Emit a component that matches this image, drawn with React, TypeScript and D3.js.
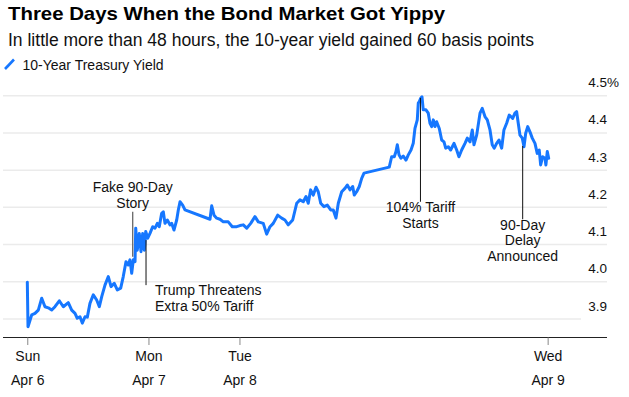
import React from "react";
import * as d3 from "d3";

// Hours since Sun Apr 6 00:00 (ET)
const hours = [21.14,21.23,21.71,22.13,22.56,23.00,23.42,23.85,24.29,24.71,25.27,25.79,26.43,26.87,27.30,27.59,27.94,28.24,28.59,28.89,29.23,29.66,30.10,30.44,30.75,31.17,31.60,31.95,32.37,32.76,33.20,33.53,33.88,34.18,34.40,34.62,34.83,35.05,35.14,35.34,35.60,35.82,36.04,36.25,36.43,36.69,36.98,37.33,37.63,37.93,38.18,38.49,38.70,38.92,39.22,39.56,39.78,40.08,40.43,40.64,40.86,41.20,41.50,44.73,44.95,45.25,45.60,46.02,46.45,47.09,47.61,48.18,48.60,49.03,49.47,49.99,50.54,50.97,51.61,52.05,52.48,52.90,53.47,53.99,54.41,54.84,55.41,55.93,56.35,56.78,57.13,57.42,57.73,58.07,58.42,58.71,59.03,59.45,59.88,60.32,60.65,61.00,61.30,61.74,62.16,62.46,62.81,63.16,63.36,63.67,64.01,64.32,64.62,67.88,68.19,68.53,68.75,68.92,69.14,69.39,69.69,70.04,70.34,70.69,70.98,71.20,71.50,71.63,71.76,71.94,72.11,72.27,72.62,72.92,73.14,73.36,73.57,73.79,74.00,74.34,74.65,74.95,75.17,75.50,75.81,76.24,76.59,76.88,77.23,77.66,77.96,78.31,78.60,78.82,79.17,79.60,79.89,80.24,80.54,80.89,81.18,81.44,81.75,82.05,82.40,82.69,83.04,83.38,83.82,84.11,84.33,84.54,84.76,85.06,85.28,85.50,85.76,86.05,86.35,86.70,86.99,87.25,87.43,87.69,87.99,88.11,88.29,88.47];

const yields = [3.999,3.879,3.911,3.915,3.924,3.956,3.933,3.930,3.924,3.933,3.949,3.933,3.944,3.924,3.915,3.902,3.906,3.889,3.906,3.905,3.942,3.965,3.951,3.933,3.960,3.991,4.014,3.987,3.996,3.978,3.983,4.014,4.054,4.045,4.059,4.023,4.059,4.054,4.144,4.085,4.130,4.081,4.130,4.085,4.135,4.117,4.130,4.148,4.144,4.157,4.148,4.184,4.188,4.157,4.166,4.153,4.157,4.139,4.166,4.193,4.215,4.206,4.193,4.168,4.204,4.179,4.171,4.168,4.161,4.161,4.148,4.148,4.151,4.153,4.144,4.157,4.175,4.161,4.157,4.128,4.148,4.157,4.179,4.171,4.166,4.153,4.166,4.211,4.220,4.215,4.229,4.211,4.247,4.233,4.254,4.242,4.211,4.202,4.206,4.193,4.193,4.171,4.211,4.242,4.251,4.260,4.247,4.256,4.233,4.242,4.256,4.278,4.292,4.308,4.336,4.336,4.350,4.368,4.341,4.332,4.338,4.327,4.341,4.354,4.372,4.412,4.435,4.480,4.484,4.493,4.497,4.462,4.462,4.453,4.426,4.417,4.435,4.417,4.430,4.412,4.381,4.376,4.359,4.363,4.354,4.372,4.354,4.336,4.354,4.372,4.386,4.376,4.408,4.368,4.394,4.453,4.466,4.444,4.435,4.408,4.368,4.359,4.372,4.381,4.359,4.408,4.426,4.448,4.439,4.453,4.457,4.426,4.394,4.386,4.363,4.399,4.417,4.403,4.386,4.372,4.345,4.354,4.314,4.336,4.332,4.314,4.350,4.332];

const yTicks = [3.9, 4.0, 4.1, 4.2, 4.3, 4.4, 4.5];
const yTickLabels = ["3.9", "4.0", "4.1", "4.2", "4.3", "4.4", "4.5"];

const xTickHours = [21.2, 36.85, 48.6, 88.4];
const xTickDays = ["Sun", "Mon", "Tue", "Wed"];
const xTickDates = ["Apr 6", "Apr 7", "Apr 8", "Apr 9"];

const annHours = [34.75, 36.47, 71.91, 85.11];
const annTop = [4.188, 4.112, 4.494, 4.365];
const annBottom = [4.067, 3.991, 4.215, 4.168];
const annLabels = [
  ["Fake 90-Day", "Story"],
  ["Trump Threatens", "Extra 50% Tariff"],
  ["104% Tariff", "Starts"],
  ["90-Day", "Delay", "Announced"],
];
const annMode = ["above", "right", "below", "below"];

const TITLE = "Three Days When the Bond Market Got Yippy";
const SUBTITLE = "In little more than 48 hours, the 10-year yield gained 60 basis points";
const LEGEND = "10-Year Treasury Yield";

const FONT = "'Liberation Sans', Arial, Helvetica, sans-serif";
const BLUE = "#1677ff";

export default function App() {
  const W = 629, H = 397;
  const x = d3.scaleLinear().domain([18, 96]).range([3, 607]);
  const y = d3.scaleLinear().domain([3.9, 4.5]).range([319, 95.7]);
  const n = Math.min(hours.length, yields.length);
  const pts: [number, number][] = [];
  for (let i = 0; i < n; i++) pts.push([hours[i], yields[i]]);
  const line = d3
    .line<[number, number]>()
    .x((d) => x(d[0]))
    .y((d) => y(d[1]))
    .curve(d3.curveLinear);
  const axisY = 337.5;

  return (
    <svg
      width={W}
      height={H}
      viewBox={`0 0 ${W} ${H}`}
      style={{ position: "absolute", left: 0, top: 0, background: "#fff" }}
      fontFamily={FONT}
    >
      <rect width={W} height={H} fill="#fff" />
      <text x={8} y={20} fontSize={18.5} fontWeight="bold" fill="#000" textLength={437} lengthAdjust="spacingAndGlyphs">
        {TITLE}
      </text>
      <text x={8} y={45.5} fontSize={17.5} fill="#111" textLength={526} lengthAdjust="spacingAndGlyphs">
        {SUBTITLE}
      </text>
      <line x1={5} y1={69} x2={14} y2={59.5} stroke={BLUE} strokeWidth={2.6} />
      <text x={22.5} y={69.5} fontSize={14} fill="#111">
        {LEGEND}
      </text>

      {yTicks.map((v, i) => (
        <g key={"g" + i}>
          <line
            x1={3}
            x2={v === 3.9 ? 581 : 607}
            y1={y(v)}
            y2={y(v)}
            stroke="#ebebeb"
            strokeWidth={1.5}
          />
          <text x={607} y={y(v) - 8.5} fontSize={13.5} fill="#111" textAnchor="end">
            {yTickLabels[i]}
          </text>
          {i === yTicks.length - 1 && (
            <text x={607} y={y(v) - 8.5} fontSize={13.5} fill="#111">
              %
            </text>
          )}
        </g>
      ))}

      <line x1={3} x2={607} y1={axisY} y2={axisY} stroke="#222" strokeWidth={1} />
      {xTickHours.map((h, i) => (
        <g key={"x" + i}>
          <line x1={x(h)} x2={x(h)} y1={axisY} y2={axisY + 7.5} stroke="#888" strokeWidth={1} />
          <text x={x(h)} y={361} fontSize={14} fill="#111" textAnchor="middle">
            {xTickDays[i]}
          </text>
          <text x={x(h)} y={385} fontSize={14} fill="#111" textAnchor="middle">
            {xTickDates[i]}
          </text>
        </g>
      ))}

      <path d={line(pts) || ""} fill="none" stroke={BLUE} strokeWidth={3} strokeLinejoin="round" strokeLinecap="round" />

      {annHours.map((h, i) => {
        const ax = x(h);
        const yt = y(annTop[i]);
        const yb = y(annBottom[i]);
        const mode = annMode[i];
        const lines = annLabels[i];
        return (
          <g key={"a" + i}>
            <line
              x1={ax}
              x2={ax}
              y1={yt}
              y2={yb}
              stroke={i === 0 ? "#666" : "#111"}
              strokeWidth={i === 0 ? 1.3 : 1}
            />
            {lines.map((t, j) => {
              let tx = ax, ty = 0, anchor = "middle";
              if (mode === "above") {
                ty = yt - 4 - (lines.length - 1 - j) * 16;
              } else if (mode === "right") {
                tx = ax + 9;
                anchor = "start";
                ty = yb + 10 + j * 16;
              } else {
                ty = yb + 10.5 + j * 15.5;
              }
              return (
                <text key={j} x={tx} y={ty} fontSize={14} fill="#111" textAnchor={anchor}>
                  {t}
                </text>
              );
            })}
          </g>
        );
      })}
    </svg>
  );
}
